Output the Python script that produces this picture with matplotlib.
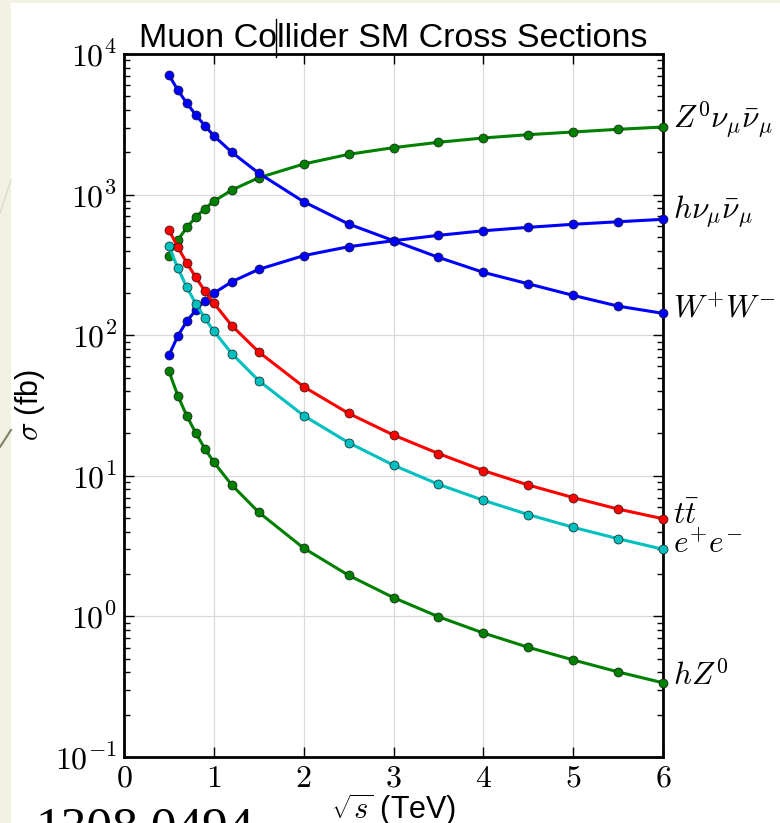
import numpy as np
import matplotlib
matplotlib.use('Agg')
import matplotlib.pyplot as plt
from matplotlib.patches import Rectangle
from matplotlib.lines import Line2D
from matplotlib.ticker import LogLocator, FixedLocator, FixedFormatter, NullFormatter

plt.rcParams['font.family'] = ['Liberation Sans', 'DejaVu Sans']
plt.rcParams['mathtext.fontset'] = 'cm'

# sqrt(s) in TeV
energia = [0.5, 0.6, 0.7, 0.8, 0.9, 1.0, 1.2, 1.5, 2.0, 2.5, 3.0, 3.5, 4.0, 4.5, 5.0, 5.5, 6.0]

# cross sections in fb
z_nunu = [368, 475, 585, 693, 794, 896, 1078, 1318, 1650, 1934, 2157, 2355, 2528, 2668, 2788, 2913, 3025]
h_nunu = [72, 99, 126, 151, 176, 199, 240, 294, 368, 426, 470, 513, 553, 585, 615, 641, 667]
ww = [7100, 5520, 4460, 3680, 3090, 2620, 2000, 1420, 890, 618, 470, 358, 280, 232, 192, 161, 143]
ttbar = [560, 422, 326, 258, 206, 169, 117, 76, 43, 27.8, 19.5, 14.4, 10.9, 8.6, 7.0, 5.8, 4.95]
ee = [429, 299, 219, 167, 132, 107, 74, 47.5, 26.8, 17.2, 11.9, 8.7, 6.7, 5.3, 4.3, 3.57, 3.0]
hz = [55.4, 37, 26.6, 20.1, 15.6, 12.5, 8.6, 5.5, 3.06, 1.96, 1.36, 0.995, 0.762, 0.603, 0.49, 0.403, 0.337]

serie = [
    (z_nunu, (0, 0.5, 0), r'$Z^0\nu_\mu\bar{\nu}_\mu$', 5),
    (h_nunu, (0, 0, 1), r'$h\nu_\mu\bar{\nu}_\mu$', 5),
    (ww, (0, 0, 1), r'$W^{+}W^{-}$', 3),
    (ttbar, (1, 0, 0), r'$t\bar{t}$', 3),
    (ee, (0, 0.75, 0.75), r'$e^{+}e^{-}$', 3),
    (hz, (0, 0.5, 0), r'$hZ^0$', 4),
]

fig = plt.figure(figsize=(7.8, 8.23), dpi=100, facecolor='#f2f1e4')
# pannello bianco della slide
fig.patches.append(Rectangle((11 / 780, 0), 1, 1 - 3 / 823, transform=fig.transFigure,
                             facecolor='white', edgecolor='none', zorder=-2))
fig.lines.append(Line2D([0, 11 / 780], [1 - 213 / 823, 1 - 180 / 823], transform=fig.transFigure,
                        color='#dcdccd', lw=1.0, zorder=-1))
fig.lines.append(Line2D([0, 11 / 780], [1 - 447 / 823, 1 - 430 / 823], transform=fig.transFigure,
                        color='#7d8466', lw=1.5, zorder=-1))

ax = fig.add_axes([124 / 780, 66 / 823, 539 / 780, 703 / 823])
ax.set_yscale('log')
ax.set_xlim(0, 6)
ax.set_ylim(0.1, 1e4)

ax.grid(True, which='major', color='#dadada', lw=0.9)
ax.set_axisbelow(True)

for valori, colore, etichetta, dy in serie:
    ax.plot(energia, valori, '-o', color=colore, lw=2.2, ms=6.5,
            mec=(0.1, 0.1, 0.1), mew=0.5, clip_on=False, zorder=3)
    ax.annotate(etichetta, xy=(6, valori[-1]), xytext=(7, dy), textcoords='offset points',
                ha='left', va='center', fontsize=22.5, annotation_clip=False)

ax.xaxis.set_major_locator(FixedLocator(range(7)))
ax.xaxis.set_major_formatter(FixedFormatter(['$%d$' % i for i in range(7)]))
decadi = [-1, 0, 1, 2, 3, 4]
ax.yaxis.set_major_locator(FixedLocator([10.0 ** d for d in decadi]))
ax.yaxis.set_major_formatter(FixedFormatter([r'$10^{%d}$' % d for d in decadi]))
ax.yaxis.set_minor_locator(LogLocator(base=10, subs=np.arange(2, 10)))
ax.yaxis.set_minor_formatter(NullFormatter())

ax.tick_params(which='both', direction='in', top=True, right=True, labelsize=23)
ax.tick_params(which='major', length=7, width=1)
ax.tick_params(which='minor', length=4, width=1)
ax.tick_params(axis='x', pad=5)
ax.tick_params(axis='y', pad=5)
for sp in ax.spines.values():
    sp.set_linewidth(2)

ax.set_title('Muon Collider SM Cross Sections', fontsize=24.5, pad=5)
ax.set_xlabel(r'$\sqrt{s}$ (TeV)', fontsize=22, labelpad=-2)
ax.set_ylabel(r'$\sigma$ (fb)', fontsize=22, labelpad=6)

# cursore di testo nel titolo
fig.lines.append(Line2D([276 / 780, 276 / 780], [1 - 19 / 823, 1 - 57 / 823], transform=fig.transFigure,
                        color='black', lw=1.0, zorder=5))

fig.text(35 / 780, 1 - 842 / 823, '1308.0494', family='Liberation Serif', fontsize=37,
         ha='left', va='baseline')

fig.savefig('out.png', dpi=100, facecolor=fig.get_facecolor())
